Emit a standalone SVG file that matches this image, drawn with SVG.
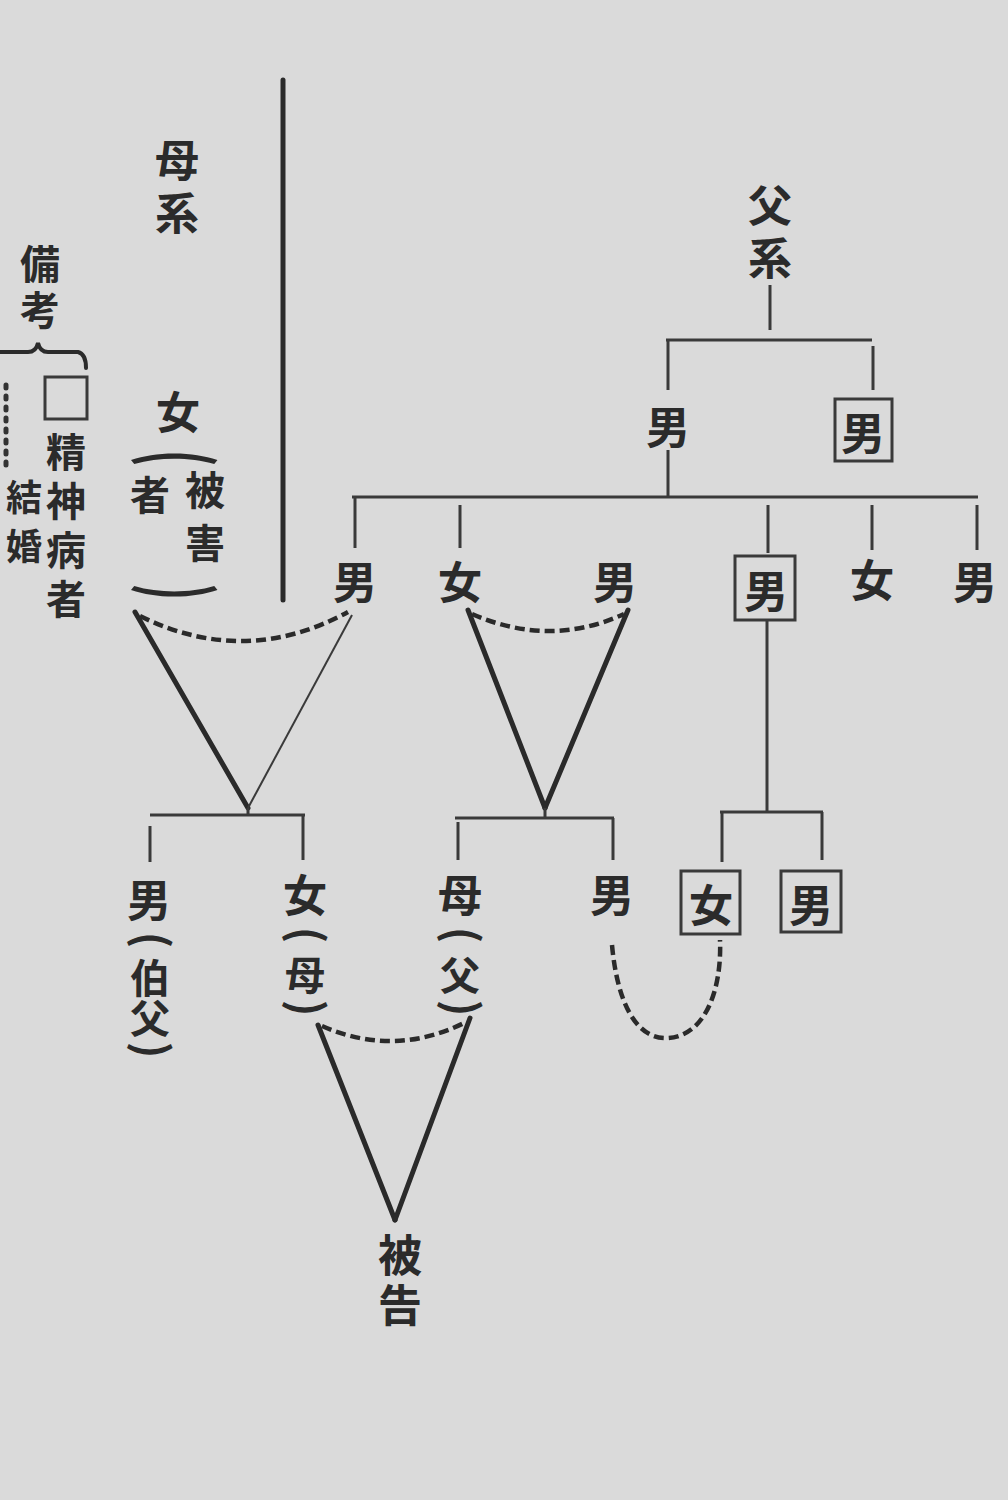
<svg xmlns="http://www.w3.org/2000/svg" width="1008" height="1500" viewBox="0 0 1008 1500">
<style>
text{font-family:"Noto Sans CJK JP","Noto Sans CJK SC",sans-serif;font-weight:bold;fill:#2b2b2b;text-anchor:middle;dominant-baseline:central;font-size:44px}
.v{writing-mode:vertical-rl;text-anchor:start;dominant-baseline:auto}
.sm{font-size:40px}
.xs{font-size:36px}
.pr{font-size:44px;font-weight:bold}
.ln{stroke:#3a3a3a;stroke-width:3;fill:none}
.th{stroke:#2a2a2a;stroke-width:5;fill:none;stroke-linecap:round}
.tn{stroke:#3a3a3a;stroke-width:2;fill:none}
.ds{stroke:#2a2a2a;stroke-width:4.5;fill:none;stroke-dasharray:10 5}
.bx{stroke:#3a3a3a;stroke-width:3;fill:none}
.par{stroke:#2b2b2b;stroke-width:4;fill:none;stroke-linecap:round}
</style>
<rect width="1008" height="1500" fill="#dadada"/>

<g id="divider"><line x1="283" y1="80" x2="283" y2="600" class="th"/></g>

<g id="maternal-title"><text class="v" x="177" y="138" letter-spacing="9">母系</text></g>

<g id="legend">
<text class="v sm" x="40" y="244" letter-spacing="6">備考</text>
<path class="par" d="M0 352 H28 Q36 352 38 343 Q40 352 48 352 H78 Q86 354 86 368"/>
<rect x="45" y="377" width="42" height="42" class="bx"/>
<text class="v sm" x="66" y="432" letter-spacing="9">精神病者</text>
<line x1="6" y1="385" x2="6" y2="470" stroke="#333" stroke-width="5" stroke-dasharray="3 8" stroke-linecap="round"/>
<text class="v xs" x="24" y="479" letter-spacing="13">結婚</text>
</g>

<g id="victim">
<text x="178" y="410">女</text>
<text class="pr" transform="translate(184,458) rotate(90) scale(1,1.9)">(</text>
<text class="v sm" x="205" y="470" letter-spacing="13">被害</text>
<text x="150" y="493" class="sm">者</text>
<text class="pr" transform="translate(184,592) rotate(90) scale(1,1.9)">)</text>
</g>

<g id="paternal-title"><text class="v" x="770" y="183" letter-spacing="9">父系</text></g>

<g id="p-male1"><text x="668" y="425">男</text></g>
<g id="p-male2"><rect x="835" y="399" width="57" height="62" class="bx"/><text x="863" y="431">男</text></g>

<g id="c-male1"><text x="355" y="580">男</text></g>
<g id="c-female1"><text x="460" y="580">女</text></g>
<g id="c-spouse"><text x="615" y="580">男</text></g>
<g id="c-male2"><rect x="735" y="556" width="60" height="64" class="bx"/><text x="766" y="589">男</text></g>
<g id="c-female2"><text x="872" y="578">女</text></g>
<g id="c-male3"><text x="975" y="580">男</text></g>

<g id="g-male-uncle">
<text x="149" y="898">男</text>
<text class="pr" transform="translate(155,940) rotate(90)">(</text>
<text class="v sm" x="150" y="958">伯父</text>
<text class="pr" transform="translate(155,1050) rotate(90)">)</text>
</g>
<g id="g-female-mother">
<text x="305" y="893">女</text>
<text class="pr" transform="translate(310,935) rotate(90)">(</text>
<text x="305" y="973" class="sm">母</text>
<text class="pr" transform="translate(310,1008) rotate(90)">)</text>
</g>
<g id="g-mother-father">
<text x="460" y="893">母</text>
<text class="pr" transform="translate(465,935) rotate(90)">(</text>
<text x="460" y="973" class="sm">父</text>
<text class="pr" transform="translate(465,1008) rotate(90)">)</text>
</g>
<g id="g-male"><text x="612" y="893">男</text></g>
<g id="g-female-box"><rect x="681" y="871" width="59" height="63" class="bx"/><text x="711" y="903">女</text></g>
<g id="g-male-box"><rect x="781" y="871" width="60" height="61" class="bx"/><text x="811" y="903">男</text></g>

<g id="defendant"><text class="v" x="400" y="1233" letter-spacing="6">被告</text></g>

<g id="connectors">
<line x1="770" y1="285" x2="770" y2="330" class="ln"/>
<line x1="666" y1="340" x2="872" y2="340" class="ln"/>
<line x1="668" y1="340" x2="668" y2="390" class="ln"/>
<line x1="873" y1="346" x2="873" y2="390" class="ln"/>
<line x1="668" y1="450" x2="668" y2="497" class="ln"/>
<line x1="352" y1="497" x2="978" y2="497" class="ln"/>
<line x1="355" y1="497" x2="355" y2="548" class="ln"/>
<line x1="460" y1="505" x2="460" y2="548" class="ln"/>
<line x1="768" y1="505" x2="768" y2="553" class="ln"/>
<line x1="872" y1="505" x2="872" y2="550" class="ln"/>
<line x1="977" y1="505" x2="977" y2="550" class="ln"/>

<line x1="135" y1="612" x2="248" y2="808" class="th"/>
<line x1="248" y1="808" x2="352" y2="615" class="tn"/>
<path class="ds" d="M140 616 Q245 668 348 612"/>

<line x1="468" y1="610" x2="545" y2="808" class="th"/>
<line x1="545" y1="808" x2="628" y2="610" class="th"/>
<path class="ds" d="M472 614 Q550 648 624 614"/>

<line x1="248" y1="808" x2="248" y2="815" class="ln"/>
<line x1="150" y1="815" x2="305" y2="815" class="ln"/>
<line x1="150" y1="826" x2="150" y2="862" class="ln"/>
<line x1="303" y1="815" x2="303" y2="860" class="ln"/>

<line x1="545" y1="808" x2="545" y2="818" class="ln"/>
<line x1="455" y1="818" x2="614" y2="818" class="ln"/>
<line x1="458" y1="822" x2="458" y2="860" class="ln"/>
<line x1="613" y1="818" x2="613" y2="860" class="ln"/>

<line x1="767" y1="620" x2="767" y2="812" class="ln"/>
<line x1="720" y1="812" x2="823" y2="812" class="ln"/>
<line x1="722" y1="812" x2="722" y2="862" class="ln"/>
<line x1="822" y1="812" x2="822" y2="860" class="ln"/>

<path class="ds" d="M612 945 C618 1010 640 1040 668 1038 C705 1036 722 990 720 940" stroke-width="5"/>

<line x1="318" y1="1025" x2="395" y2="1220" class="th"/>
<line x1="395" y1="1220" x2="470" y2="1018" class="th"/>
<path class="ds" d="M322 1026 Q395 1058 466 1022"/>
</g>
</svg>
